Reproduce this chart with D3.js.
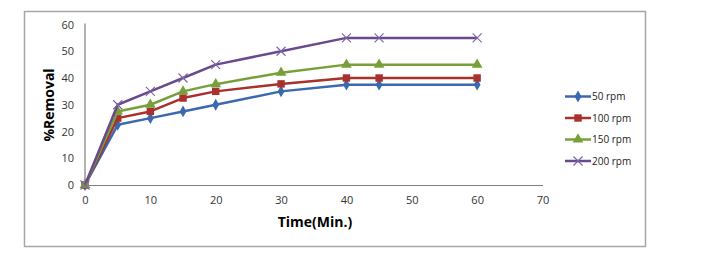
<!DOCTYPE html>
<html>
<head>
<meta charset="utf-8">
<script src="https://cdn.jsdelivr.net/npm/d3@7"></script>
<style>
  body { margin: 0; background: #fff; }
  svg { display: block; }
</style>
</head>
<body>
<div id="chart"></div>
<script>
// Data
const times = [0, 5, 10, 15, 20, 30, 40, 45, 60];
const rpm50 = [0, 22.5, 25, 27.5, 30, 35, 37.5, 37.5, 37.5];
const rpm100 = [0, 25, 27.5, 32.5, 35, 37.8, 40, 40, 40];
const rpm150 = [0, 27.5, 30, 35, 37.7, 42, 45, 45, 45];
const rpm200 = [0, 30, 35, 40, 45, 50, 55, 55, 55];
const seriesNames = ["50 rpm", "100 rpm", "150 rpm", "200 rpm"];
const xTicks = [0, 10, 20, 30, 40, 50, 60, 70];
const yTicks = [0, 10, 20, 30, 40, 50, 60];

const colors = ["#3B68AE", "#A8302D", "#77A03A", "#6A4A8F"];
const symbols = ["diamond", "square", "triangle", "cross"];
const series = [rpm50, rpm100, rpm150, rpm200].map((vals, i) => ({
    name: seriesNames[i],
    color: colors[i],
    symbol: symbols[i],
    points: times.map((t, j) => ({ t, v: vals[j] }))
}));

const width = 706, height = 261;
const svg = d3.select("#chart").append("svg")
    .attr("width", width)
    .attr("height", height)
    .style("font-family", "'Open Sans', sans-serif");

// outer chart border
svg.append("rect")
    .attr("x", 24.5).attr("y", 11.5)
    .attr("width", 621).attr("height", 235)
    .attr("fill", "none")
    .attr("stroke", "#a6a6a6")
    .attr("stroke-width", 1.5);

const x = d3.scaleLinear().domain([0, 70]).range([85, 542.5]);
const y = d3.scaleLinear().domain([0, 60]).range([185, 24.5]);

// axes
const xAxis = svg.append("g")
    .attr("transform", `translate(0,${y(0)})`)
    .call(d3.axisBottom(x).tickValues(xTicks).tickSize(0).tickPadding(11));
const yAxis = svg.append("g")
    .attr("transform", `translate(${x(0)},0)`)
    .call(d3.axisLeft(y).tickValues(yTicks).tickSize(0).tickPadding(11));

[xAxis, yAxis].forEach(a => {
    a.select(".domain").attr("stroke", "#7f7f7f").attr("stroke-width", 1.2);
    a.selectAll("text")
        .attr("fill", "#333")
        .style("font-size", "11px")
        .style("font-family", "'Open Sans', sans-serif");
});
yAxis.select(".domain").attr("d", `M0,${y(0)}V${y(60) - 1}`);

// axis titles
svg.append("text")
    .attr("x", 315).attr("y", 227)
    .attr("text-anchor", "middle")
    .style("font-size", "14px")
    .style("font-weight", "bold")
    .attr("fill", "#000")
    .text("Time(Min.)");

svg.append("text")
    .attr("transform", `translate(54,105) rotate(-90)`)
    .attr("text-anchor", "middle")
    .style("font-size", "14px")
    .style("font-weight", "bold")
    .attr("fill", "#000")
    .text("%Removal");

const line = d3.line().x(d => x(d.t)).y(d => y(d.v));

function drawMarker(g, s, cx, cy) {
    if (s.symbol === "cross") {
        const r = 4.5;
        g.append("path")
            .attr("d", `M${cx - r},${cy - r}L${cx + r},${cy + r}M${cx - r},${cy + r}L${cx + r},${cy - r}`)
            .attr("stroke", "#7a63a6")
            .attr("stroke-width", 1.1)
            .attr("fill", "none");
    } else {
        const sym = { diamond: d3.symbolDiamond, square: d3.symbolSquare, triangle: d3.symbolTriangle }[s.symbol];
        const size = { diamond: 40, square: 55, triangle: 50 }[s.symbol];
        g.append("path")
            .attr("transform", `translate(${cx},${cy})`)
            .attr("d", d3.symbol().type(sym).size(size)())
            .attr("fill", s.color);
    }
}

series.forEach(s => {
    const g = svg.append("g");
    g.append("path")
        .datum(s.points)
        .attr("d", line)
        .attr("fill", "none")
        .attr("stroke", s.color)
        .attr("stroke-width", 2.5)
        .attr("stroke-linejoin", "round");
    s.points.forEach(p => drawMarker(g, s, x(p.t), y(p.v)));
});

// legend
const legendY = [96.5, 118, 139.5, 161];
series.forEach((s, i) => {
    const g = svg.append("g");
    const ly = legendY[i];
    g.append("line")
        .attr("x1", 565).attr("x2", 591)
        .attr("y1", ly).attr("y2", ly)
        .attr("stroke", s.color)
        .attr("stroke-width", 2.5);
    drawMarker(g, s, 578, ly);
    g.append("text")
        .attr("x", 592).attr("y", ly + 3.5)
        .style("font-size", "10px")
        .attr("fill", "#222")
        .text(s.name);
});
</script>
</body>
</html>
